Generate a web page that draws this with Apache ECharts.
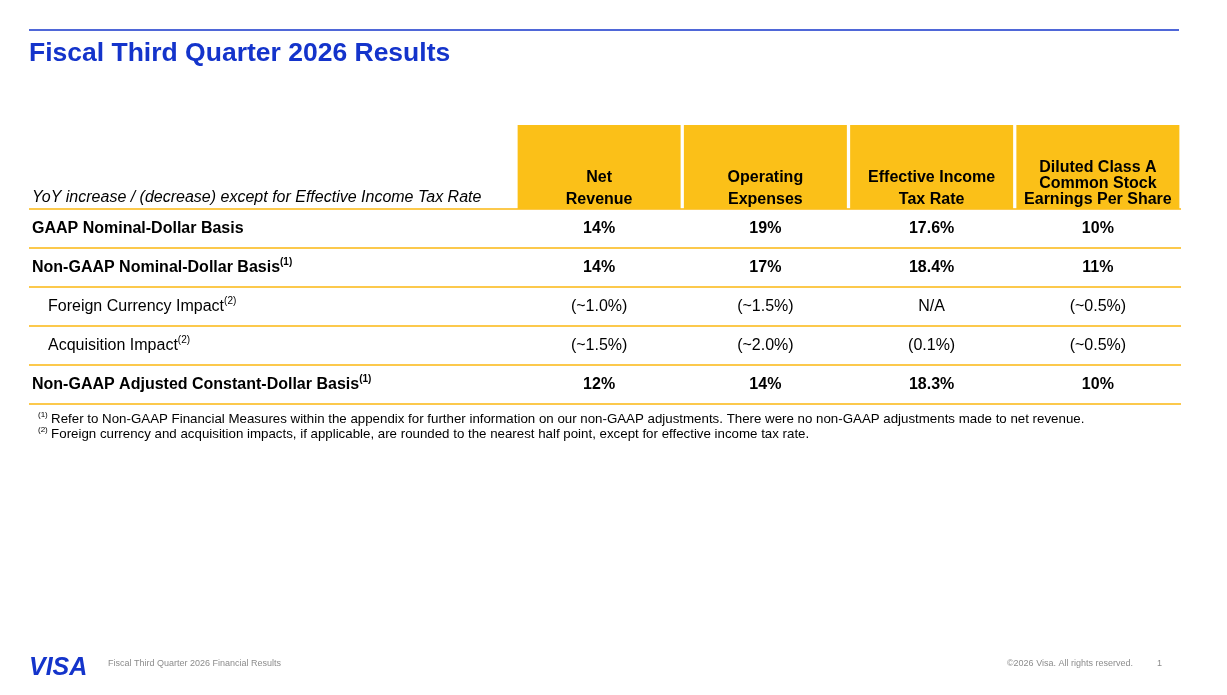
<!DOCTYPE html>
<html>
<head>
<meta charset="utf-8">
<script src="https://cdn.jsdelivr.net/npm/echarts@6/dist/echarts.min.js"></script>
<style>
html, body { margin: 0; padding: 0; background: #fff; }
#main { width: 1227px; height: 695px; }
</style>
</head>
<body>
<div id="main"></div>
<script>
// table content
var titleText = 'Fiscal Third Quarter 2026 Results';
var cornerText = 'YoY increase / (decrease) except for Effective Income Tax Rate';
var columns = ['Net\nRevenue', 'Operating\nExpenses', 'Effective Income\nTax Rate', 'Diluted Class A\nCommon Stock\nEarnings Per Share'];
var rows = ['GAAP Nominal-Dollar Basis', 'Non-GAAP Nominal-Dollar Basis', 'Foreign Currency Impact', 'Acquisition Impact', 'Non-GAAP Adjusted Constant-Dollar Basis'];
var rowNotes = ['', '(1)', '(2)', '(2)', '(1)'];
var rowKind = ['total', 'total', 'detail', 'detail', 'total'];
var netRevenue = ['14%', '14%', '(~1.0%)', '(~1.5%)', '12%'];
var operatingExpenses = ['19%', '17%', '(~1.5%)', '(~2.0%)', '14%'];
var taxRate = ['17.6%', '18.4%', 'N/A', '(0.1%)', '18.3%'];
var dilutedEps = ['10%', '11%', '(~0.5%)', '(~0.5%)', '10%'];
var footnoteMarks = ['(1)', '(2)'];
var footnotes = [
    'Refer to Non-GAAP Financial Measures within the appendix for further information on our non-GAAP adjustments. There were no non-GAAP adjustments made to net revenue.',
    'Foreign currency and acquisition impacts, if applicable, are rounded to the nearest half point, except for effective income tax rate.'
];
var footerLeft = 'Fiscal Third Quarter 2026 Financial Results';
var footerRight = '©2026 Visa. All rights reserved.';
var pageNumber = '1';

var FONT = 'Liberation Sans';
var BLUE = '#1434CB';
var GOLD = '#FBC018';
var RULE = '#FCC94C';

var chartDom = document.getElementById('main');
var myChart = echarts.init(chartDom, null, { renderer: 'canvas' });

var valueColumns = [netRevenue, operatingExpenses, taxRate, dilutedEps];
var cells = [];
for (var c = 0; c < valueColumns.length; c++) {
    for (var r = 0; r < rows.length; r++) {
        cells.push({
            value: [c, r],
            text: valueColumns[c][r],
            label: { fontWeight: rowKind[r] == 'total' ? 'bold' : 'normal' }
        });
    }
}

var headerBars = columns.map(function (name) {
    var lines = name.split('\n').length;
    return {
        value: 1,
        label: { lineHeight: lines > 2 ? 16 : 22, distance: lines > 2 ? 1 : -2 }
    };
});

function textStyle(size, opts) {
    var s = { fontSize: size, fontFamily: FONT, fill: '#000' };
    for (var k in opts) s[k] = opts[k];
    return s;
}

var supStyle = { fontSize: 10, fontFamily: FONT, color: '#000', verticalAlign: 'top', lineHeight: 10, fontWeight: 'bold', padding: [0, 0, 2, 0] };

var option = {
    backgroundColor: '#fff',
    animation: false,
    grid: [{
        left: 516, right: 46, top: 125, height: 84
    }, {
        left: 516, right: 46, top: 209, height: 195
    }],
    xAxis: [{
        gridIndex: 0, type: 'category', data: columns, show: false
    }, {
        gridIndex: 1, type: 'category', data: columns, show: false
    }],
    yAxis: [{
        gridIndex: 0, type: 'value', min: 0, max: 1, show: false
    }, {
        gridIndex: 1,
        type: 'category',
        inverse: true,
        data: rows,
        axisLine: { show: false },
        axisTick: {
            show: true,
            length: 487,
            lineStyle: { color: RULE, width: 2 }
        },
        splitLine: {
            show: true,
            lineStyle: { color: RULE, width: 2 }
        },
        axisLabel: {
            align: 'left',
            margin: 484,
            formatter: function (val, idx) {
                var s = rowKind[idx] == 'total' ? '{b|' + val + '}' : '{r|' + val + '}';
                if (rowNotes[idx]) s += (rowKind[idx] == 'total' ? '{sb|' : '{sr|') + rowNotes[idx] + '}';
                return s;
            },
            rich: {
                b: { fontSize: 16, fontWeight: 'bold', fontFamily: FONT, color: '#000', lineHeight: 20 },
                r: { fontSize: 16, fontFamily: FONT, color: '#000', lineHeight: 20, padding: [0, 0, 0, 16] },
                sb: supStyle,
                sr: echarts.util.extend(echarts.util.extend({}, supStyle), { fontWeight: 'normal' })
            }
        }
    }],
    series: [{
        type: 'bar',
        xAxisIndex: 0,
        yAxisIndex: 0,
        barWidth: 163,
        itemStyle: { color: GOLD },
        label: {
            show: true,
            position: 'insideBottom',
            formatter: function (p) { return columns[p.dataIndex]; },
            fontFamily: FONT,
            fontSize: 16,
            fontWeight: 'bold',
            color: '#000'
        },
        silent: true,
        data: headerBars
    }, {
        type: 'scatter',
        xAxisIndex: 1,
        yAxisIndex: 1,
        symbolSize: 0,
        silent: true,
        itemStyle: { opacity: 1 },
        label: {
            show: true,
            position: 'inside',
            formatter: function (p) { return p.data.text; },
            fontFamily: FONT,
            fontSize: 16,
            color: '#000'
        },
        data: cells
    }],
    graphic: [{
        type: 'line',
        shape: { x1: 29, y1: 30, x2: 1179, y2: 30 },
        style: { stroke: BLUE, lineWidth: 1.5 },
        silent: true
    }, {
        type: 'text',
        x: 29, y: 54,
        style: textStyle(26.5, { text: titleText, fontWeight: 'bold', fill: BLUE, verticalAlign: 'middle' })
    }, {
        type: 'text',
        x: 32, y: 198,
        style: textStyle(16, { text: cornerText, fontStyle: 'italic', verticalAlign: 'middle' })
    }, {
        type: 'text',
        x: 38, y: 419,
        style: {
            text: '{s|' + footnoteMarks[0] + '} {t|' + footnotes[0] + '}',
            verticalAlign: 'middle',
            rich: {
                s: { fontSize: 8, fontFamily: FONT, fill: '#000', verticalAlign: 'top', lineHeight: 8 },
                t: { fontSize: 13.3, fontFamily: FONT, fill: '#000', lineHeight: 16 }
            }
        }
    }, {
        type: 'text',
        x: 38, y: 434,
        style: {
            text: '{s|' + footnoteMarks[1] + '} {t|' + footnotes[1] + '}',
            verticalAlign: 'middle',
            rich: {
                s: { fontSize: 8, fontFamily: FONT, fill: '#000', verticalAlign: 'top', lineHeight: 8 },
                t: { fontSize: 13.3, fontFamily: FONT, fill: '#000', lineHeight: 16 }
            }
        }
    }, {
        type: 'text',
        x: 29, y: 668,
        style: textStyle(25, { text: 'VISA', fontWeight: 'bold', fontStyle: 'italic', fill: BLUE, verticalAlign: 'middle' })
    }, {
        type: 'text',
        x: 108, y: 664,
        style: textStyle(9, { text: footerLeft, fill: '#8c8c8c', verticalAlign: 'middle' })
    }, {
        type: 'text',
        x: 1133, y: 664,
        style: textStyle(9, { text: footerRight, fill: '#8c8c8c', align: 'right', verticalAlign: 'middle' })
    }, {
        type: 'text',
        x: 1157, y: 664,
        style: textStyle(9, { text: pageNumber, fill: '#8c8c8c', verticalAlign: 'middle' })
    }]
};

option && myChart.setOption(option);
</script>
</body>
</html>
